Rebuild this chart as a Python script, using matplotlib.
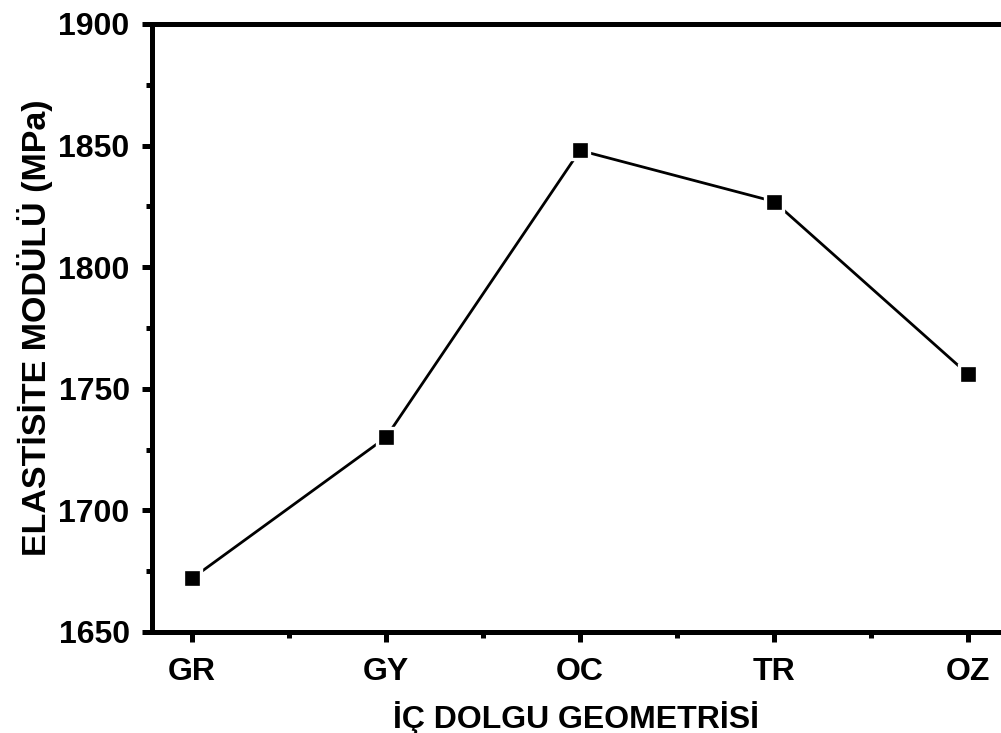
import matplotlib.pyplot as plt
from matplotlib.ticker import MultipleLocator

geometriler = ['GR', 'GY', 'OC', 'TR', 'OZ']
modul = [1672, 1730, 1848, 1827, 1756]

plt.rcParams['font.family'] = ['Liberation Sans', 'DejaVu Sans']
plt.rcParams['font.weight'] = 'bold'

fig = plt.figure(figsize=(10.01, 7.33), dpi=100)
ax = fig.add_axes([0.1518, 0.1378, 0.8482, 0.8295])

x = range(len(geometriler))
ax.plot(x, modul, color='black', lw=2.0, marker='s', markersize=13.5,
        markerfacecolor='black', markeredgecolor='white', markeredgewidth=2.4)

ax.set_xlim(-0.206, 4.17)
ax.set_ylim(1650, 1900)
ax.set_xticks(list(x))
ax.set_xticklabels(geometriler)
ax.xaxis.set_minor_locator(MultipleLocator(0.5))
ax.yaxis.set_major_locator(MultipleLocator(50))
ax.yaxis.set_minor_locator(MultipleLocator(25))

for s in ['left', 'bottom', 'top']:
    ax.spines[s].set_linewidth(3.6)
ax.spines['right'].set_visible(False)

ax.tick_params(which='major', direction='out', length=7, width=3.6,
               labelsize=23, pad=9)
ax.tick_params(which='minor', direction='out', length=4, width=3.6)
ax.tick_params(axis='x', which='major', pad=11)

ax.set_xlabel('İÇ DOLGU GEOMETRİSİ', fontsize=23, fontweight='bold', labelpad=10)
ax.set_ylabel('ELASTİSİTE MODÜLÜ (MPa)', fontsize=24.5, fontweight='bold', labelpad=4)

fig.savefig('out.png', dpi=100)
